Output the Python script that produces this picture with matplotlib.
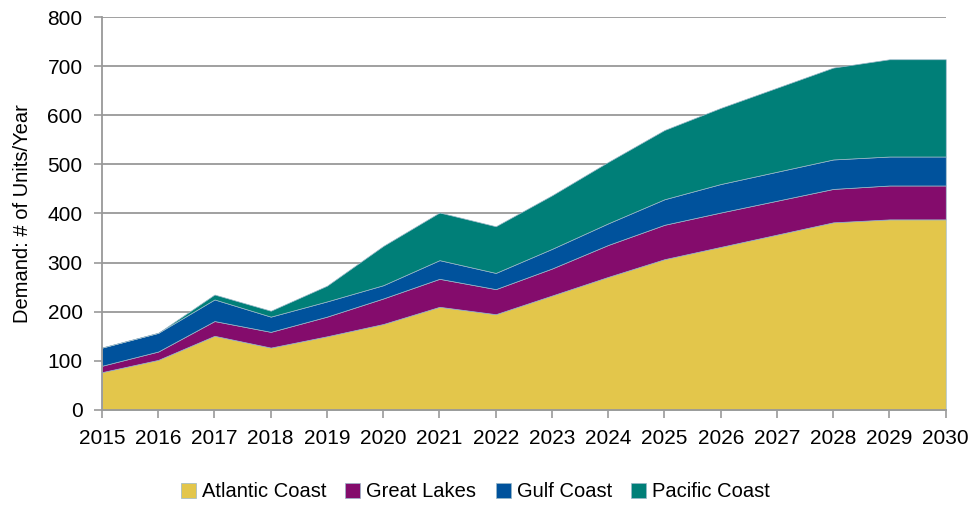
import matplotlib.pyplot as plt
import numpy as np

plt.rcParams["font.family"] = ["Liberation Sans", "DejaVu Sans"]

years = list(range(2015, 2031))
atlantic = [77, 102, 151, 127, 150, 175, 210, 195, 233, 271, 307, 332, 357, 382, 388, 388]
great_lakes = [13, 17, 30, 32, 40, 52, 57, 51, 55, 65, 70, 70, 69, 68, 69, 69]
gulf = [37, 38, 44, 31, 31, 27, 38, 33, 40, 44, 52, 58, 59, 60, 59, 59]
pacific = [0, 0, 10, 12, 32, 80, 97, 95, 109, 125, 141, 155, 171, 187, 198, 198]
labels = ["Atlantic Coast", "Great Lakes", "Gulf Coast", "Pacific Coast"]
colors = ["#E3C64B", "#840C6C", "#00529C", "#007F78"]

fig, ax = plt.subplots(figsize=(9.76, 5.08), dpi=100)
plt.subplots_adjust(left=0.1045, right=0.969, bottom=0.193, top=0.9665)

polys = ax.stackplot(years, atlantic, great_lakes, gulf, pacific,
                     colors=colors, labels=labels,
                     edgecolor="#9ab8c8", linewidth=0.5)

ax.set_xlim(2015, 2030)
ax.set_ylim(0, 800)
ax.set_xticks(years)
ax.set_yticks(np.arange(0, 801, 100))
ax.tick_params(axis="both", direction="out", length=6, width=1.2,
               color="#999999", labelsize=15, pad=8)
ax.yaxis.grid(True, color="#999999", linewidth=1.3)
ax.set_axisbelow(True)
for s in ["top", "right"]:
    ax.spines[s].set_visible(False)
for s in ["left", "bottom"]:
    ax.spines[s].set_color("#999999")
    ax.spines[s].set_linewidth(1.3)

ax.set_ylabel("Demand: # of Units/Year", fontsize=14.5, labelpad=11)

leg = fig.legend(polys, labels, loc="center", bbox_to_anchor=(0.487, 0.032),
                 ncol=4, frameon=False, fontsize=14.5,
                 handlelength=0.75, handleheight=0.75, handletextpad=0.3,
                 columnspacing=0.95)

plt.savefig("out.png", dpi=100)
